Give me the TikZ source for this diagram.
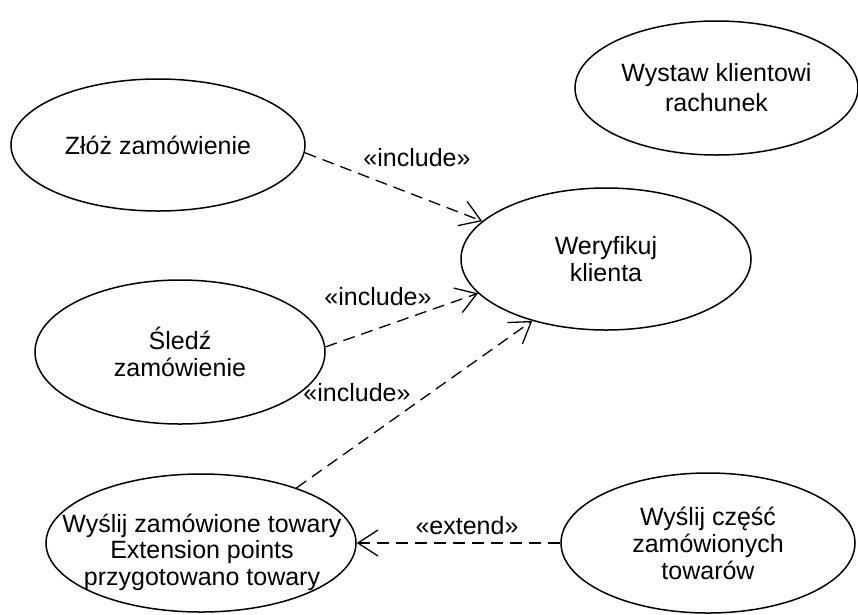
\documentclass[tikz,border=0pt]{standalone}
\usepackage{fontspec}
\setmainfont{Liberation Sans}
\usetikzlibrary{shapes.geometric,arrows.meta}

\tikzset{
  usecase/.style={ellipse, draw=black, line width=1.5pt, inner sep=0pt,
    align=center, font=\fontsize{25}{27}\selectfont},
  casetext/.style={inner sep=0pt, align=center, font=\fontsize{25}{26.5}\selectfont},
  dep/.style={draw=black, line width=1.3pt, dash pattern=on 12pt off 7pt,
    -{Straight Barb[length=20pt,width=26pt,line width=1.3pt]}},
  stereo/.style={font=\fontsize{25}{27}\selectfont, inner sep=0pt}
}

\begin{document}
\begin{tikzpicture}[x=1pt,y=-1pt]
\useasboundingbox (0,0) rectangle (858,614);
\fill[white] (0,0) rectangle (858,614);

% use cases
\node[usecase, minimum width=283pt, minimum height=134pt] (wystaw) at (716.5,88)
  {Wystaw klientowi\\[3pt]rachunek};
\node[usecase, minimum width=294pt, minimum height=132pt] (zloz) at (158,145)
  {Złóż zamówienie};
\node[usecase, minimum width=290pt, minimum height=142pt] (weryf) at (606,259)
  {Weryfikuj\\klienta};
\node[usecase, minimum width=290pt, minimum height=144pt] (sledz) at (180,352)
  {Śledź\\zamówienie};
\node[usecase, minimum width=310pt, minimum height=138pt] (wyslijz) at (201,543) {};
\node[casetext] (wyslijztxt) at (202,552)
  {Wyślij zamówione towary\\Extension points\\przygotowano towary};
\node[usecase, minimum width=294pt, minimum height=140pt] (wyslijc) at (708,543)
  {Wyślij część\\zamówionych\\towarów};

% include / extend dependencies
\draw[dep] (zloz.-3) -- (weryf.163);
\draw[dep] (sledz.2) -- (weryf.195);
\draw[dep] (wyslijz.30) -- (weryf.220);
\draw[dep] (wyslijc.west) -- (wyslijz.east);

% stereotype labels
\node[stereo] (inc1) at (417,158) {«include»};
\node[stereo] (inc2) at (378,297) {«include»};
\node[stereo] (inc3) at (357,393) {«include»};
\node[stereo] (ext)  at (467,526) {«extend»};
\end{tikzpicture}
\end{document}
